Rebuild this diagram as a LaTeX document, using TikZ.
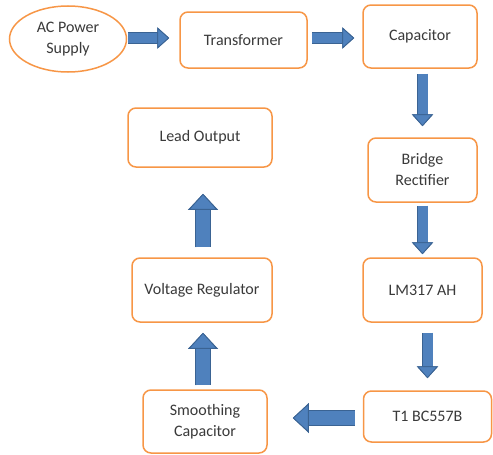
\documentclass[tikz,border=0pt]{standalone}
\usepackage{fontspec}
\setmainfont{Carlito}
\usetikzlibrary{arrows.meta,shapes.geometric}
\definecolor{boxline}{HTML}{F79646}
\definecolor{arrowfill}{HTML}{4F81BD}
\definecolor{arrowline}{HTML}{3A6393}
\definecolor{textcol}{HTML}{3A3A3A}
\tikzset{
  block/.style={draw=boxline,line width=1.5pt,rounded corners=8pt,fill=white,
    align=center,text=textcol,font=\fontsize{16}{21}\selectfont,inner sep=2pt},
  source/.style={block,ellipse,rounded corners=0pt},
  flow/.style={line width=14pt,draw=arrowfill,
    -{Triangle[width=29pt,length=16pt,color=arrowline,fill=arrowfill,line width=0.8pt]},
    preaction={draw=arrowline,line width=15.4pt,-{Triangle[width=29pt,length=16pt]}}},
  smallflow/.style={line width=10pt,draw=arrowfill,
    -{Triangle[width=21pt,length=12pt,color=arrowline,fill=arrowfill,line width=0.8pt]},
    preaction={draw=arrowline,line width=11.4pt,-{Triangle[width=21pt,length=12pt]}}},
}
\begin{document}
\begin{tikzpicture}[x=1pt,y=-1pt]
\useasboundingbox (0,0) rectangle (493,455);

 \node (node_ac) at (68,39) [source,minimum width=117pt,minimum height=66pt] {AC Power\\Supply};
 \node (node_tr) at (243.5,40) [block,minimum width=127pt,minimum height=56pt] {Transformer};
 \node (node_cap) at (420,36.5) [block,minimum width=114pt,minimum height=63pt] {Capacitor};
 \node (node_br) at (422.5,170) [block,minimum width=109pt,minimum height=64pt] {Bridge\\Rectifier};
 \node (node_lm) at (422.5,290) [block,minimum width=119pt,minimum height=64pt] {LM317 AH};
 \node (node_t1) at (427.5,416.5) [block,minimum width=128pt,minimum height=51pt] {T1 BC557B};
 \node (node_sm) at (205,421.5) [block,minimum width=124pt,minimum height=63pt] {Smoothing\\Capacitor};
 \node (node_vr) at (202,290) [block,minimum width=140pt,minimum height=64pt] {Voltage Regulator};
 \node (node_lo) at (200,137.5) [block,minimum width=144pt,minimum height=59pt] {Lead Output};

  \draw [smallflow,shorten <=1pt,shorten >=10pt] (node_ac.east |- 0,38) -- (node_tr.west |- 0,38);
  \draw [smallflow,shorten <=4pt,shorten >=8pt] (node_tr.east |- 0,38) -- (node_cap.west |- 0,38);
  \draw [smallflow,shorten <=5pt,shorten >=11pt] (node_cap.south -| node_br) -- (node_br.north);
  \draw [smallflow,shorten <=3pt,shorten >=3pt] (node_br.south) -- (node_lm.north);
  \draw [smallflow,shorten <=10pt,shorten >=12pt] (node_lm.south -| node_t1) -- (node_t1.north);
  \draw [flow,shorten <=8pt,shorten >=25pt] (node_t1.west |- 0,418) -- (node_sm.east |- 0,418);
  \draw [flow,shorten <=4pt,shorten >=10pt] (node_sm.north -| 203,0) -- (node_vr.south -| 203,0);
  \draw [flow,shorten <=10pt,shorten >=26pt] (node_vr.north -| 203,0) -- (node_lo.south -| 203,0);

\end{tikzpicture}
\end{document}
